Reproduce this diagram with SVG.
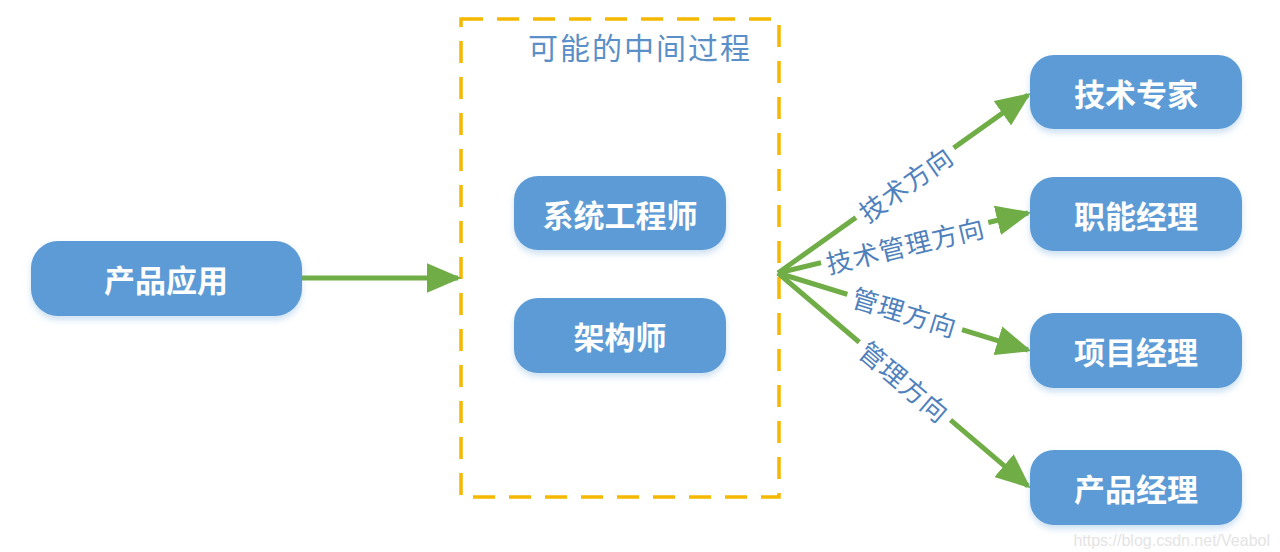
<svg xmlns="http://www.w3.org/2000/svg" width="1280" height="552" viewBox="0 0 1280 552">
<defs>
<style>
.node rect{fill:#5b9bd5;filter:url(#sh)}
.node text{fill:#fff;font-family:"Noto Sans CJK SC","Noto Sans",sans-serif;font-weight:700;font-size:31px;text-anchor:middle;dominant-baseline:central}
.edge{stroke:#70ad47;stroke-width:5;fill:none;marker-end:url(#ah)}
.lbl text{fill:#4f81bd;font-family:"Noto Sans CJK SC",sans-serif;font-size:26px;text-anchor:middle;dominant-baseline:central;letter-spacing:1px}
.lbl rect{fill:#fff}
</style>
<filter id="sh" x="-10%" y="-20%" width="120%" height="150%">
<feDropShadow dx="0" dy="4" stdDeviation="3" flood-color="#5b9bd5" flood-opacity="0.3"/>
</filter>
<marker id="ah" viewBox="0 0 10 10" refX="9" refY="5" markerWidth="7" markerHeight="6" orient="auto" markerUnits="strokeWidth" preserveAspectRatio="none">
<path d="M0,0 L10,5 L0,10 z" fill="#70ad47"/>
</marker>
</defs>
<rect width="1280" height="552" fill="#fff"/>
<g id="process-box">
<rect x="461" y="19" width="318" height="478" fill="none" stroke="#f5b800" stroke-width="3.5" stroke-dasharray="22,14"/>
<text x="640" y="46" font-family="'Noto Sans CJK SC',sans-serif" font-size="30" fill="#5b8fc7" text-anchor="middle" dominant-baseline="central" letter-spacing="2">可能的中间过程</text>
</g>
<g id="connectors">
<line class="edge" x1="302" y1="278" x2="458" y2="278"/>
<line class="edge" x1="778" y1="273" x2="1028" y2="95"/>
<line class="edge" x1="778" y1="273" x2="1028" y2="213"/>
<line class="edge" x1="778" y1="273" x2="1028" y2="350"/>
<line class="edge" x1="778" y1="273" x2="1028" y2="486"/>
<g class="lbl" transform="translate(905,183) rotate(-35.4)"><rect x="-60" y="-15" width="120" height="30"/><text>技术方向</text></g>
<g class="lbl" transform="translate(905,244) rotate(-13.4)"><rect x="-86" y="-15" width="172" height="30"/><text>技术管理方向</text></g>
<g class="lbl" transform="translate(905,311) rotate(17)"><rect x="-60" y="-15" width="120" height="30"/><text>管理方向</text></g>
<g class="lbl" transform="translate(905,381) rotate(40.3)"><rect x="-60" y="-15" width="120" height="30"/><text>管理方向</text></g>
</g>
<g id="n-product-app" class="node"><rect x="31" y="241" width="271" height="75" rx="27"/><text x="166" y="278">产品应用</text></g>
<g id="n-sys-eng" class="node"><rect x="514" y="176" width="212" height="74" rx="24"/><text x="620" y="213">系统工程师</text></g>
<g id="n-architect" class="node"><rect x="514" y="298" width="212" height="75" rx="24"/><text x="620" y="335">架构师</text></g>
<g id="n-tech-expert" class="node"><rect x="1030" y="55" width="212" height="74" rx="24"/><text x="1136" y="92">技术专家</text></g>
<g id="n-func-mgr" class="node"><rect x="1030" y="177" width="212" height="74" rx="24"/><text x="1136" y="214">职能经理</text></g>
<g id="n-proj-mgr" class="node"><rect x="1030" y="313" width="212" height="75" rx="24"/><text x="1136" y="350">项目经理</text></g>
<g id="n-prod-mgr" class="node"><rect x="1030" y="450" width="212" height="75" rx="24"/><text x="1136" y="487">产品经理</text></g>
<text x="1270" y="540" font-family="'Liberation Sans',sans-serif" font-size="16" fill="#e4e4e4" text-anchor="end" dominant-baseline="central">https://blog.csdn.net/Veabol</text>
</svg>
